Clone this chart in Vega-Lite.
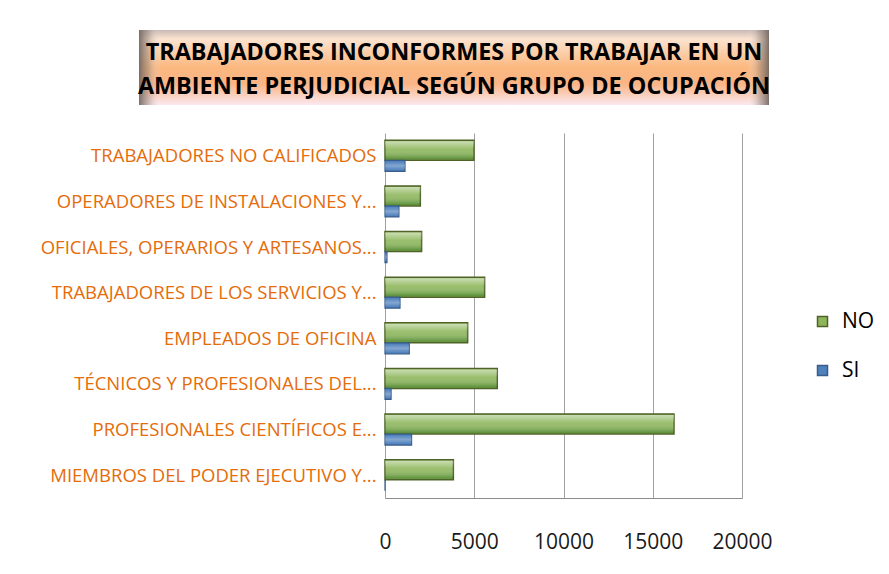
{
  "$schema": "https://vega.github.io/schema/vega-lite/v6.json",
  "padding": {"left": 40, "top": 30, "right": 5, "bottom": 5},
  "background": "white",
  "config": {"font": "Open Sans", "view": {"stroke": null}},
  "spacing": 28,
  "resolve": {"scale": {"fill": "independent", "stroke": "independent"}, "legend": {"fill": "independent", "stroke": "independent"}},
  "datasets": {
    "ocupacion": [
      {"grupo": "TRABAJADORES NO CALIFICADOS", "respuesta": "NO", "valor": 4980},
      {"grupo": "TRABAJADORES NO CALIFICADOS", "respuesta": "SI", "valor": 1120},
      {"grupo": "OPERADORES DE INSTALACIONES Y...", "respuesta": "NO", "valor": 1980},
      {"grupo": "OPERADORES DE INSTALACIONES Y...", "respuesta": "SI", "valor": 780},
      {"grupo": "OFICIALES, OPERARIOS Y ARTESANOS...", "respuesta": "NO", "valor": 2050},
      {"grupo": "OFICIALES, OPERARIOS Y ARTESANOS...", "respuesta": "SI", "valor": 110},
      {"grupo": "TRABAJADORES DE LOS SERVICIOS Y...", "respuesta": "NO", "valor": 5580},
      {"grupo": "TRABAJADORES DE LOS SERVICIOS Y...", "respuesta": "SI", "valor": 840},
      {"grupo": "EMPLEADOS DE OFICINA", "respuesta": "NO", "valor": 4630},
      {"grupo": "EMPLEADOS DE OFICINA", "respuesta": "SI", "valor": 1360},
      {"grupo": "TÉCNICOS Y PROFESIONALES DEL...", "respuesta": "NO", "valor": 6290},
      {"grupo": "TÉCNICOS Y PROFESIONALES DEL...", "respuesta": "SI", "valor": 340},
      {"grupo": "PROFESIONALES CIENTÍFICOS E...", "respuesta": "NO", "valor": 16190},
      {"grupo": "PROFESIONALES CIENTÍFICOS E...", "respuesta": "SI", "valor": 1490},
      {"grupo": "MIEMBROS DEL PODER EJECUTIVO Y...", "respuesta": "NO", "valor": 3830},
      {"grupo": "MIEMBROS DEL PODER EJECUTIVO Y...", "respuesta": "SI", "valor": 0}
    ]
  },
  "vconcat": [
    {
      "width": 630,
      "height": 75,
      "data": {"values": [{}]},
      "layer": [
        {
          "mark": {
            "type": "rect",
            "fill": {
              "gradient": "linear", "x1": 0, "y1": 0, "x2": 0, "y2": 1,
              "stops": [
                {"offset": 0, "color": "#C9B8B4"},
                {"offset": 0.12, "color": "#FBE3CF"},
                {"offset": 0.5, "color": "#FBB87F"},
                {"offset": 0.72, "color": "#FAB487"},
                {"offset": 1, "color": "#FBE9EF"}
              ]
            }
          },
          "encoding": {}
        },
        {
          "mark": {
            "type": "rect",
            "fill": {
              "gradient": "linear", "x1": 0, "y1": 0, "x2": 1, "y2": 0,
              "stops": [
                {"offset": 0, "color": "rgba(110,100,95,0.9)"},
                {"offset": 0.015, "color": "rgba(140,125,118,0.45)"},
                {"offset": 0.035, "color": "rgba(255,255,255,0)"},
                {"offset": 0.965, "color": "rgba(255,255,255,0)"},
                {"offset": 0.985, "color": "rgba(140,125,118,0.45)"},
                {"offset": 1, "color": "rgba(110,100,95,0.9)"}
              ]
            }
          },
          "encoding": {}
        },
        {
          "mark": {
            "type": "text",
            "text": ["TRABAJADORES INCONFORMES POR TRABAJAR EN UN", "AMBIENTE PERJUDICIAL SEGÚN GRUPO DE OCUPACIÓN"],
            "font": "Open Sans",
            "fontWeight": "bold",
            "fontSize": 23.4,
            "lineHeight": 34,
            "color": "#000000",
            "align": "center",
            "baseline": "middle",
            "dy": -15
          },
          "encoding": {}
        }
      ]
    },
    {
      "spacing": 0,
      "resolve": {"scale": {"fill": "independent", "stroke": "independent"}, "legend": {"fill": "independent", "stroke": "independent"}},
      "hconcat": [
        {
          "width": 239,
          "height": 365,
          "data": {"name": "ocupacion"},
          "mark": {"type": "point", "opacity": 0},
          "encoding": {
            "y": {
              "field": "grupo",
              "type": "nominal",
              "sort": null,
              "scale": {"paddingInner": 0, "paddingOuter": 0},
              "axis": {
                "title": null,
                "domain": false,
                "ticks": false,
                "grid": false,
                "labelFontSize": 18.5,
                "labelColor": "#E46C0A",
                "labelAlign": "right",
                "labelPadding": -237,
                "labelLimit": 400,
                "encode": {
                  "labels": {
                    "update": {
                      "dx": {"signal": "(datum.value === 'TRABAJADORES NO CALIFICADOS' || datum.value === 'EMPLEADOS DE OFICINA') ? -15 : 0"}
                    }
                  }
                }
              }
            }
          }
        },
        {
          "width": 357,
          "height": 365,
          "data": {"name": "ocupacion"},
          "encoding": {
            "y": {
              "field": "grupo",
              "type": "nominal",
              "sort": null,
              "scale": {"paddingInner": 0, "paddingOuter": 0},
              "axis": null
            },
            "x": {
              "field": "valor",
              "type": "quantitative",
              "scale": {"domain": [0, 20000], "nice": false},
              "axis": {
                "title": null,
                "values": [0, 5000, 10000, 15000, 20000],
                "format": "d",
                "labelFontSize": 21,
                "labelColor": "#1A1A1A",
                "ticks": false,
                "labelPadding": 33,
                "labelFlush": false,
                "grid": true,
                "gridColor": "#A0A0A0",
                "domainColor": "#8C8C8C"
              }
            }
          },
          "layer": [
            {
              "transform": [{"filter": "datum.respuesta === 'NO'"}],
              "mark": {"type": "bar", "height": 20, "yOffset": -5.5, "strokeWidth": 1.5},
              "encoding": {
                "fill": {
                  "field": "respuesta",
                  "type": "nominal",
                  "scale": {"domain": ["NO", "SI"], "range": ["#8DB65A", "#4F81BD"]},
                  "legend": {
                    "orient": "none",
                    "legendX": 427,
                    "legendY": 178,
                    "title": null,
                    "padding": 0,
                    "symbolType": "square",
                    "symbolSize": 100,
                    "symbolStrokeWidth": 1.5,
                    "labelFontSize": 21,
                    "labelColor": "#000000",
                    "labelOffset": 9,
                    "rowPadding": 27
                  }
                },
                "stroke": {
                  "field": "respuesta",
                  "type": "nominal",
                  "scale": {"domain": ["NO", "SI"], "range": ["#4F6228", "#385D8A"]},
                  "legend": {
                    "orient": "none",
                    "legendX": 427,
                    "legendY": 178,
                    "title": null,
                    "padding": 0,
                    "symbolType": "square",
                    "symbolSize": 100,
                    "symbolStrokeWidth": 1.5,
                    "labelFontSize": 21,
                    "labelColor": "#000000",
                    "labelOffset": 9,
                    "rowPadding": 27
                  }
                }
              }
            },
            {
              "transform": [{"filter": "datum.respuesta === 'NO'"}],
              "mark": {
                "type": "bar",
                "height": 18,
                "yOffset": -5.5,
                "strokeWidth": 0,
                "fill": {
                  "gradient": "linear", "x1": 0, "y1": 0, "x2": 0, "y2": 1,
                  "stops": [
                    {"offset": 0, "color": "rgba(255,255,255,0.55)"},
                    {"offset": 0.45, "color": "rgba(255,255,255,0.1)"},
                    {"offset": 1, "color": "rgba(20,90,10,0.45)"}
                  ]
                }
              },
              "encoding": {}
            },
            {
              "transform": [{"filter": "datum.respuesta === 'SI'"}],
              "mark": {"type": "bar", "height": 11, "yOffset": 10, "strokeWidth": 1.2},
              "encoding": {
                "fill": {"field": "respuesta", "type": "nominal"},
                "stroke": {"field": "respuesta", "type": "nominal"}
              }
            },
            {
              "transform": [{"filter": "datum.respuesta === 'SI'"}],
              "mark": {
                "type": "bar",
                "height": 9,
                "yOffset": 10,
                "strokeWidth": 0,
                "fill": {
                  "gradient": "linear", "x1": 0, "y1": 0, "x2": 0, "y2": 1,
                  "stops": [
                    {"offset": 0, "color": "rgba(255,255,255,0)"},
                    {"offset": 0.5, "color": "rgba(255,255,255,0.3)"},
                    {"offset": 1, "color": "rgba(255,255,255,0)"}
                  ]
                }
              },
              "encoding": {}
            }
          ]
        }
      ]
    }
  ]
}
